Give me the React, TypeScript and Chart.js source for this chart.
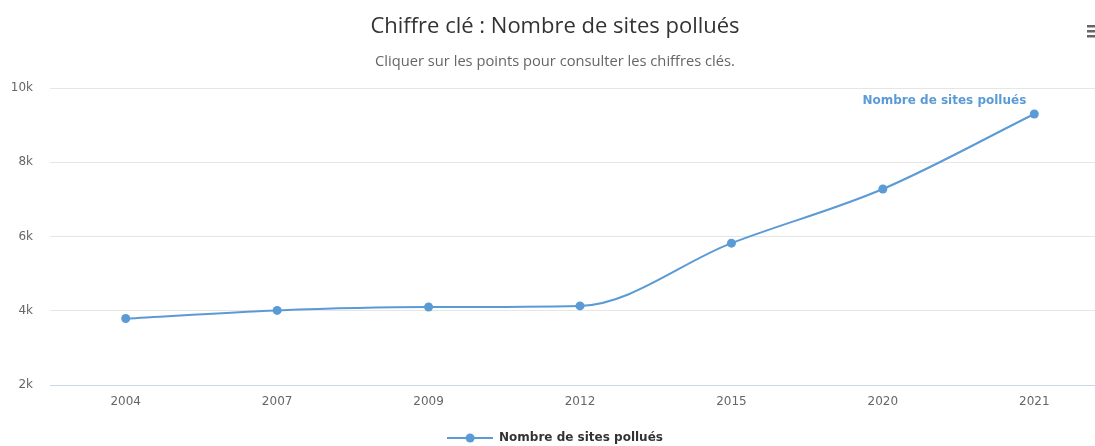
import React, { useEffect, useRef } from 'react';
import { Chart, registerables } from 'chart.js';

Chart.register(...registerables);

// ---- data ----
const categories: string[] = ['2004', '2007', '2009', '2012', '2015', '2020', '2021'];
const siteCounts: number[] = [3790, 4010, 4100, 4130, 5820, 7280, 9300];
const yTickValues: number[] = [2000, 4000, 6000, 8000, 10000];
const seriesName = 'Nombre de sites pollués';
const titleText = 'Chiffre clé : Nombre de sites pollués';
const subtitleText = 'Cliquer sur les points pour consulter les chiffres clés.';

// ---- style ----
const W = 1120;
const H = 446;
const BLUE = '#5b9bd5';
const TICK_FONT = '"DejaVu Sans", sans-serif';
const TITLE_FONT = '"Open Sans", sans-serif';

function makeLegendSymbol(): HTMLCanvasElement {
  const c = document.createElement('canvas');
  c.width = 46;
  c.height = 12;
  const ctx = c.getContext('2d')!;
  ctx.strokeStyle = BLUE;
  ctx.lineWidth = 2;
  ctx.beginPath();
  ctx.moveTo(0, 6);
  ctx.lineTo(46, 6);
  ctx.stroke();
  ctx.fillStyle = BLUE;
  ctx.beginPath();
  ctx.arc(23, 6, 4.5, 0, Math.PI * 2);
  ctx.fill();
  return c;
}

const lastPointLabel = {
  id: 'lastPointLabel',
  afterDatasetsDraw(chart: any) {
    const meta = chart.getDatasetMeta(0);
    const pt = meta.data[meta.data.length - 1];
    if (!pt) return;
    const ctx = chart.ctx;
    ctx.save();
    ctx.font = `bold 12px ${TICK_FONT}`;
    ctx.textAlign = 'right';
    ctx.textBaseline = 'middle';
    ctx.lineJoin = 'round';
    ctx.lineWidth = 2;
    ctx.strokeStyle = '#ffffff';
    ctx.strokeText(seriesName, pt.x - 8, pt.y - 13);
    ctx.fillStyle = BLUE;
    ctx.fillText(seriesName, pt.x - 8, pt.y - 13);
    ctx.restore();
  },
};

const menuIcon = {
  id: 'menuIcon',
  afterDraw(chart: any) {
    const ctx = chart.ctx;
    ctx.save();
    ctx.fillStyle = '#666666';
    [25, 30, 35].forEach((y) => ctx.fillRect(1087, y, 14, 2.5));
    ctx.restore();
  },
};

export default function App() {
  const ref = useRef<HTMLCanvasElement | null>(null);

  useEffect(() => {
    if (!ref.current) return;
    const symbol = makeLegendSymbol();
    const chart = new Chart(ref.current, {
      type: 'line',
      data: {
        labels: categories,
        datasets: [
          {
            label: seriesName,
            data: siteCounts,
            borderColor: BLUE,
            backgroundColor: BLUE,
            borderWidth: 2,
            pointRadius: 4.5,
            pointHoverRadius: 5,
            pointBackgroundColor: BLUE,
            pointBorderWidth: 0,
            cubicInterpolationMode: 'monotone',
            fill: false,
          },
        ],
      },
      options: {
        responsive: false,
        animation: false,
        devicePixelRatio: 1,
        layout: { padding: { left: 0, right: 10, top: 0, bottom: 0 } },
        plugins: {
          title: {
            display: true,
            text: titleText,
            color: '#333333',
            font: { family: TITLE_FONT, size: 22, weight: 'normal', lineHeight: 1.2 },
            padding: { top: 14, bottom: 0 },
          },
          subtitle: {
            display: true,
            text: subtitleText,
            color: '#666666',
            font: { family: TITLE_FONT, size: 14.7, weight: 'normal', lineHeight: 1.2 },
            padding: { top: 12.3, bottom: 17.66 },
          },
          legend: {
            display: true,
            position: 'bottom',
            maxHeight: 27,
            labels: {
              usePointStyle: true,
              pointStyleWidth: 46,
              padding: 13,
              color: '#333333',
              font: { family: TICK_FONT, size: 12, weight: 'bold' },
              generateLabels: () => [
                {
                  text: seriesName,
                  pointStyle: symbol as any,
                  fillStyle: BLUE,
                  strokeStyle: BLUE,
                  lineWidth: 0,
                  hidden: false,
                  datasetIndex: 0,
                  fontColor: '#333333',
                },
              ],
            },
          },
          tooltip: { enabled: false },
        },
        scales: {
          x: {
            type: 'category',
            offset: true,
            grid: { display: false, drawTicks: false },
            border: { display: true, color: '#ccd6eb', width: 1 },
            ticks: {
              color: '#666666',
              font: { family: TICK_FONT, size: 12, lineHeight: 1.2 },
              padding: 9.8,
              maxRotation: 0,
              autoSkip: false,
            },
          },
          y: {
            min: 2000,
            max: 10000,
            afterBuildTicks: (scale: any) => {
              scale.ticks = yTickValues.map((v) => ({ value: v }));
            },
            afterFit: (scale: any) => {
              scale.width = 50;
            },
            grid: {
              color: (c: any) => (c.tick && c.tick.value === 2000 ? '#ccd6eb' : '#e6e6e6'),
              lineWidth: 1,
              drawTicks: false,
            },
            border: { display: false },
            ticks: {
              color: '#666666',
              font: { family: TICK_FONT, size: 12 },
              padding: 17,
              callback: (v: any) => `${Number(v) / 1000}k`,
            },
          },
        },
      },
      plugins: [lastPointLabel, menuIcon],
    });
    return () => chart.destroy();
  }, []);

  return (
    <div style={{ position: 'fixed', left: 0, top: 0, width: W, height: H, background: '#ffffff' }}>
      <canvas ref={ref} width={W} height={H} style={{ display: 'block', width: W, height: H }} />
    </div>
  );
}
